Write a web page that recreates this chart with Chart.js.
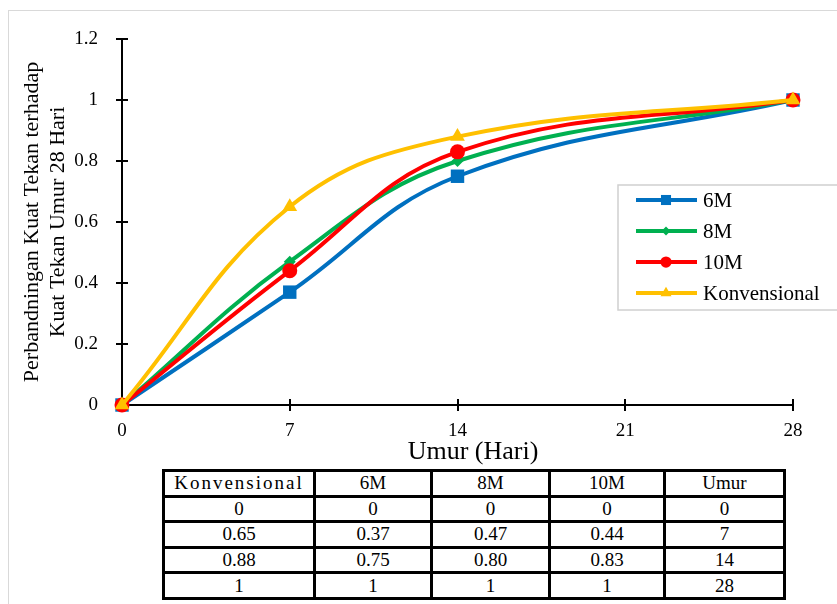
<!DOCTYPE html>
<html>
<head>
<meta charset="utf-8">
<script src="https://cdn.jsdelivr.net/npm/chart.js@4.4.1/dist/chart.umd.min.js"></script>
<style>
  html, body { margin:0; padding:0; background:#fff; }
  #wrap { position:relative; width:837px; height:604px; overflow:hidden; font-family:"Liberation Serif", "Times New Roman", serif; }
  #frame { position:absolute; left:8px; top:10px; width:900px; height:700px; border:1px solid #d9d9d9; box-sizing:border-box; }
  canvas { position:absolute; left:0; top:0; }
  table { position:absolute; left:162px; top:469px; width:621px; border-collapse:collapse; font-family:"Liberation Serif", serif; font-size:19px; table-layout:fixed; background:#fff; }
  td { border:3px solid #000; text-align:center; height:22.6px; padding:0; line-height:20px; }
  td.sp { letter-spacing:2px; }
</style>
</head>
<body>
<div id="wrap">
  <div id="frame"></div>
  <canvas id="c" width="837" height="604"></canvas>
  <table id="tbl"></table>
</div>
<script>
const days = [0, 7, 14, 28];
const m6 = [0, 0.37, 0.75, 1];
const m8 = [0, 0.47, 0.80, 1];
const m10 = [0, 0.44, 0.83, 1];
const konvensional = [0, 0.65, 0.88, 1];
const xTicks = [0, 7, 14, 21, 28];
const yTicks = [0, 0.2, 0.4, 0.6, 0.8, 1, 1.2];
const seriesNames = ['6M', '8M', '10M', 'Konvensional'];
const tableHeader = ['Konvensional', '6M', '8M', '10M', 'Umur'];
const tableCols = [
  ['0', '0.65', '0.88', '1'],
  ['0', '0.37', '0.75', '1'],
  ['0', '0.47', '0.80', '1'],
  ['0', '0.44', '0.83', '1'],
  ['0', '7', '14', '28']
];

// table
const tbl = document.getElementById('tbl');
const colW = [151, 117, 118, 115, 120];
let html = '<colgroup>' + colW.map(w => '<col style="width:' + w + 'px">').join('') + '</colgroup>';
html += '<tr>' + tableHeader.map((h, i) => '<td' + (i === 0 ? ' class="sp"' : '') + '>' + h + '</td>').join('') + '</tr>';
for (let r = 0; r < 4; r++) {
  html += '<tr>' + tableCols.map(c => '<td>' + c[r] + '</td>').join('') + '</tr>';
}
tbl.innerHTML = html;

const toPts = arr => days.map((d, i) => ({x: d, y: arr[i]}));
const colors = ['#0070C0', '#00B050', '#FF0000', '#FFC000'];
const styles = ['rect', 'rectRot', 'circle', 'triangle'];
const radii = [9.5, 6, 7.5, 8.5];
const values = [m6, m8, m10, konvensional];

const datasets = seriesNames.map((n, i) => ({
  label: n,
  data: toPts(values[i]),
  borderColor: colors[i],
  backgroundColor: colors[i],
  borderWidth: 4,
  pointStyle: styles[i],
  pointRadius: radii[i],
  pointBorderWidth: 0,
  pointHoverRadius: radii[i],
  tension: 0.4,
  fill: false,
  clip: false,
  order: 4 - i
}));

const FONT = '"Liberation Serif", "Times New Roman", serif';

const extras = {
  id: 'extras',
  beforeDatasetsDraw(chart) {
    const ctx = chart.ctx;
    const xs = chart.scales.x, ys = chart.scales.y;
    ctx.save();
    ctx.strokeStyle = '#000';
    ctx.lineWidth = 2;
    yTicks.forEach(v => {
      const y = Math.round(ys.getPixelForValue(v));
      ctx.beginPath(); ctx.moveTo(xs.left - 6, y); ctx.lineTo(xs.left + 6, y); ctx.stroke();
    });
    xTicks.forEach(v => {
      const x = Math.round(xs.getPixelForValue(v));
      ctx.beginPath(); ctx.moveTo(x, ys.bottom - 6); ctx.lineTo(x, ys.bottom + 6); ctx.stroke();
    });
    ctx.restore();
  },
  afterDraw(chart) {
    const ctx = chart.ctx;
    ctx.save();
    // x title
    ctx.fillStyle = '#000';
    ctx.font = '26px ' + FONT;
    ctx.textAlign = 'center';
    ctx.textBaseline = 'middle';
    ctx.fillText('Umur (Hari)', 473, 452);
    // legend
    const lx = 618, ly = 185, lw = 230, lh = 125;
    ctx.fillStyle = '#fff';
    ctx.fillRect(lx, ly, lw, lh);
    ctx.strokeStyle = '#d0d0d0';
    ctx.lineWidth = 1.5;
    ctx.strokeRect(lx, ly, lw, lh);
    const rowsY = [200, 231, 262, 293];
    chart.data.datasets.forEach((ds, i) => {
      const y = rowsY[i];
      ctx.strokeStyle = ds.borderColor;
      ctx.lineWidth = 4;
      ctx.beginPath(); ctx.moveTo(636, y); ctx.lineTo(697, y); ctx.stroke();
      ctx.fillStyle = ds.backgroundColor;
      Chart.helpers.drawPoint(ctx, {pointStyle: ds.pointStyle, radius: ds.pointRadius * 0.75, rotation: 0, borderWidth: 0}, 666, y);
      ctx.fillStyle = '#000';
      ctx.font = '21px ' + FONT;
      ctx.textAlign = 'left';
      ctx.textBaseline = 'middle';
      ctx.fillText(ds.label, 703, y + 1);
    });
    ctx.restore();
  }
};

new Chart(document.getElementById('c'), {
  type: 'line',
  data: { datasets },
  plugins: [extras],
  options: {
    responsive: false,
    animation: false,
    events: [],
    layout: { padding: { left: 0, top: 39, right: 44, bottom: 139 } },
    plugins: { legend: { display: false }, tooltip: { enabled: false } },
    scales: {
      x: {
        type: 'linear', min: 0, max: 28,
        afterBuildTicks: s => { s.ticks = xTicks.map(v => ({value: v})); },
        afterFit: s => { s.height = 60; },
        grid: { display: false },
        border: { display: true, color: '#000', width: 2 },
        ticks: { color: '#000', font: { family: FONT, size: 19 }, padding: 7, maxRotation: 0, autoSkip: false, callback: v => String(v) },
        title: { display: false }
      },
      y: {
        min: 0, max: 1.2,
        afterBuildTicks: s => { s.ticks = yTicks.map(v => ({value: v})); },
        afterFit: s => { s.width = 122; },
        grid: { display: false },
        border: { display: true, color: '#000', width: 2 },
        ticks: { color: '#000', font: { family: FONT, size: 19 }, padding: 16, callback: v => String(Math.round(v * 10) / 10) },
        title: { display: true, text: ['Perbandningan Kuat Tekan terhadap', 'Kuat Tekan Umur 28 Hari'], color: '#000', font: { family: FONT, size: 22, lineHeight: 1.15 }, padding: { top: 20, bottom: 0 } }
      }
    }
  }
});
</script>
</body>
</html>
